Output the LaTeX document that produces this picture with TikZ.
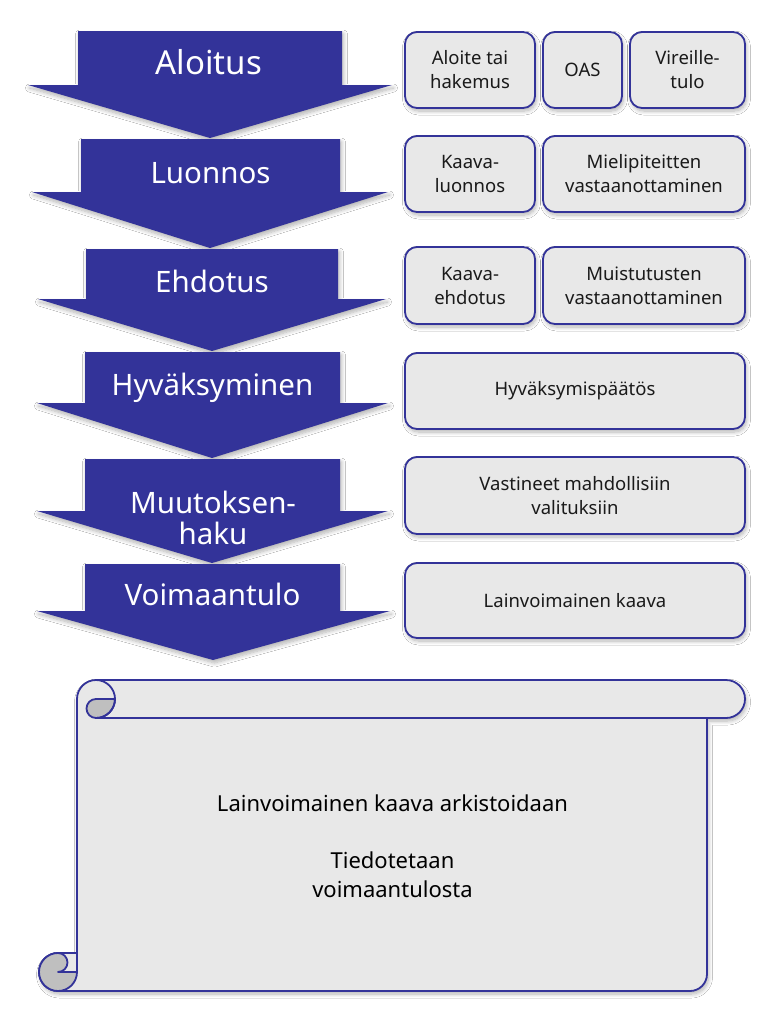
\documentclass[tikz,border=0pt]{standalone}
\usepackage{fontspec}
\setmainfont{Noto Sans}
\usetikzlibrary{shadows.blur}
\definecolor{navy}{RGB}{51,51,153}
\definecolor{boxfill}{RGB}{232,232,232}
\definecolor{curlgray}{RGB}{191,191,191}
\definecolor{ink}{RGB}{26,26,26}
\tikzset{
  shd/.style={blur shadow={shadow xshift=1.5pt, shadow yshift=-3pt, shadow blur radius=4pt, shadow opacity=30, shadow blur steps=8}},
  arrowshape/.style={fill=navy, draw=none, shd},
  steplabel/.style={text=white, anchor=base, align=center, font=\fontsize{29.5}{31}\selectfont},
  infobox/.style={draw=navy, line width=1.8pt, fill=boxfill, rounded corners=12pt, align=center, text=ink, font=\fontsize{18.5}{24}\selectfont, inner sep=0pt, shd},
  scrollline/.style={draw=navy, line width=1.8pt, line join=round},
  scrolltext/.style={align=center, text=black, font=\fontsize{22}{28.5}\selectfont},
}
\begin{document}
\begin{tikzpicture}[x=1pt, y=1pt]
\useasboundingbox[fill=white] (0,0) rectangle (780,-1009);

% ---- step arrows ----
\path[arrowshape] (78,-31) -- (342,-31) -- (342,-85) -- (392,-85) -- (210,-138) -- (28,-85) -- (78,-85) -- cycle;
\path[arrowshape] (81,-139) -- (340,-139) -- (340,-192) -- (388,-192) -- (210,-248) -- (32,-192) -- (81,-192) -- cycle;
\path[arrowshape] (86,-249) -- (338,-249) -- (338,-299) -- (386,-299) -- (212,-351) -- (38,-299) -- (86,-299) -- cycle;
\path[arrowshape] (85,-352) -- (340,-352) -- (340,-403) -- (388,-403) -- (212,-458) -- (37,-403) -- (85,-403) -- cycle;
\path[arrowshape] (85,-459) -- (340,-459) -- (340,-511) -- (388,-511) -- (212,-563) -- (37,-511) -- (85,-511) -- cycle;
\path[arrowshape] (85,-564) -- (340,-564) -- (340,-611) -- (390,-611) -- (213,-660) -- (37,-611) -- (85,-611) -- cycle;

\node[steplabel, font=\fontsize{33}{34}\selectfont] (aloitus) at (209,-74.5) {Aloitus};
\node[steplabel] (luonnos) at (210.5,-183.5) {Luonnos};
\node[steplabel] (ehdotus) at (212,-292.7) {Ehdotus};
\node[steplabel] (hyvaksyminen) at (212.5,-395) {Hyväksyminen};
\node[steplabel, anchor=center] (muutoksenhaku) at (213,-518) {Muutoksen-\\haku};
\node[steplabel] (voimaantulo) at (212.5,-605) {Voimaantulo};

% ---- info boxes ----
\node[infobox, minimum width=130pt, minimum height=76pt] (aloite) at (470,-70) {Aloite tai\\hakemus};
\node[infobox, minimum width=79pt, minimum height=76pt] (oas) at (582.5,-70) {OAS};
\node[infobox, minimum width=115pt, minimum height=76pt] (vireille) at (687.5,-70) {Vireille-\\tulo};

\node[infobox, minimum width=130pt, minimum height=76pt] (kluonnos) at (470,-174) {Kaava-\\luonnos};
\node[infobox, minimum width=202pt, minimum height=76pt] (mielipiteet) at (644,-174) {Mielipiteitten\\vastaanottaminen};

\node[infobox, minimum width=130pt, minimum height=77pt] (kehdotus) at (470,-285.5) {Kaava-\\ehdotus};
\node[infobox, minimum width=202pt, minimum height=77pt] (muistutukset) at (644,-285.5) {Muistutusten\\vastaanottaminen};

\node[infobox, minimum width=340pt, minimum height=76pt] (paatos) at (575,-391) {Hyväksymispäätös};
\node[infobox, minimum width=340pt, minimum height=77pt] (vastineet) at (575,-495.5) {Vastineet mahdollisiin\\valituksiin};
\node[infobox, minimum width=340pt, minimum height=75pt] (lainvoimainen) at (575,-600.5) {Lainvoimainen kaava};

% ---- scroll ----
\path[scrollline, fill=boxfill, shd]
  (96,-680) -- (726,-680) arc[start angle=90, end angle=-90, radius=19]
  -- (707,-718) -- (707,-974) arc[start angle=0, end angle=-90, radius=17]
  -- (58,-991) arc[start angle=270, end angle=90, radius=19]
  -- (77,-953) -- (77,-699) arc[start angle=180, end angle=90, radius=19] -- cycle;
\draw[scrollline] (96,-718) -- (707,-718);
% bottom-left curl
\fill[curlgray] (58,-972) circle[radius=19];
\path[scrollline, fill=boxfill] (58,-953) -- (77,-953) -- (77,-972) -- (58,-972)
  arc[start angle=-90, end angle=90, radius=9.5] -- cycle;
\draw[scrollline] (77,-972) arc[start angle=0, end angle=-270, radius=19];
% top-left curl
\path[scrollline, fill=curlgray] (96,-699) -- (115,-699) arc[start angle=0, end angle=-90, radius=19]
  arc[start angle=270, end angle=90, radius=9.5] -- cycle;
\draw[scrollline] (96,-680) arc[start angle=90, end angle=-90, radius=19];

\node[scrolltext] (arkisto) at (392.5,-846) {Lainvoimainen kaava arkistoidaan\\[28.5pt]Tiedotetaan\\voimaantulosta};
\end{tikzpicture}
\end{document}
